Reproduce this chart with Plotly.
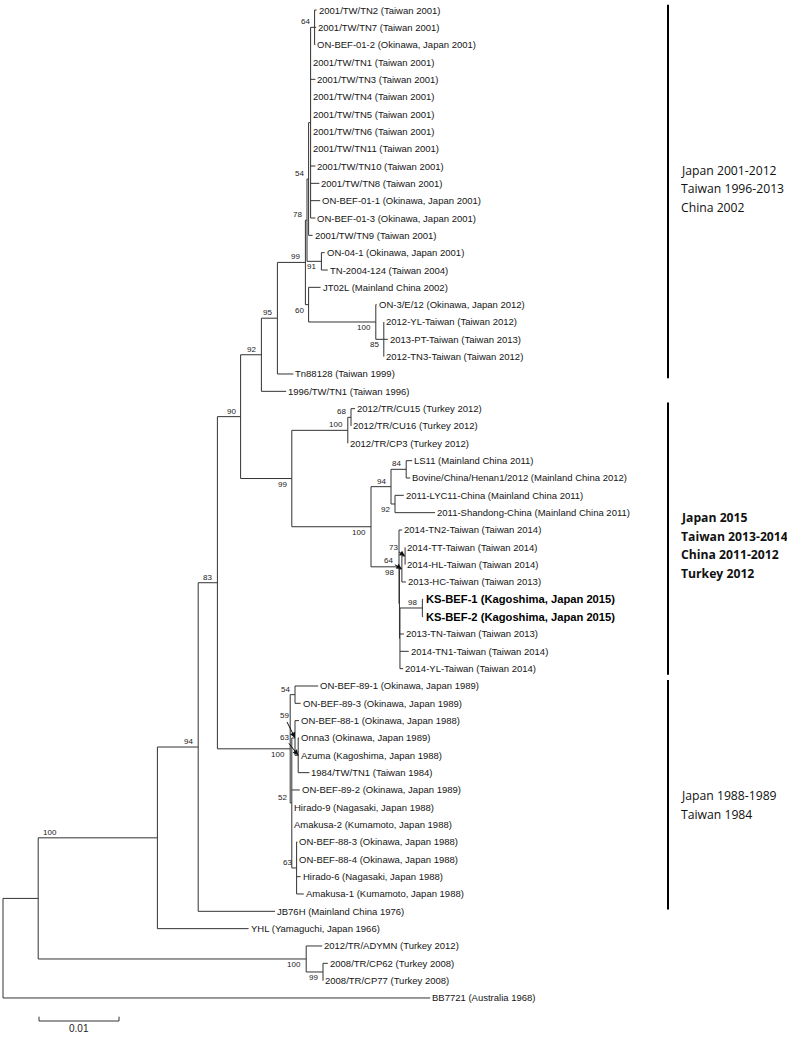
import plotly.graph_objects as go

# ---------------- DATA ----------------
tip_labels = [
    "2001/TW/TN2 (Taiwan 2001)", "2001/TW/TN7 (Taiwan 2001)", "ON-BEF-01-2 (Okinawa, Japan 2001)",
    "2001/TW/TN1 (Taiwan 2001)", "2001/TW/TN3 (Taiwan 2001)", "2001/TW/TN4 (Taiwan 2001)",
    "2001/TW/TN5 (Taiwan 2001)", "2001/TW/TN6 (Taiwan 2001)", "2001/TW/TN11 (Taiwan 2001)",
    "2001/TW/TN10 (Taiwan 2001)", "2001/TW/TN8 (Taiwan 2001)", "ON-BEF-01-1 (Okinawa, Japan 2001)",
    "ON-BEF-01-3 (Okinawa, Japan 2001)", "2001/TW/TN9 (Taiwan 2001)", "ON-04-1 (Okinawa, Japan 2001)",
    "TN-2004-124 (Taiwan 2004)", "JT02L (Mainland China 2002)", "ON-3/E/12 (Okinawa, Japan 2012)",
    "2012-YL-Taiwan (Taiwan 2012)", "2013-PT-Taiwan (Taiwan 2013)", "2012-TN3-Taiwan (Taiwan 2012)",
    "Tn88128 (Taiwan 1999)", "1996/TW/TN1 (Taiwan 1996)",
    "2012/TR/CU15 (Turkey 2012)", "2012/TR/CU16 (Turkey 2012)", "2012/TR/CP3 (Turkey 2012)",
    "LS11 (Mainland China 2011)", "Bovine/China/Henan1/2012 (Mainland China 2012)",
    "2011-LYC11-China (Mainland China 2011)", "2011-Shandong-China (Mainland China 2011)",
    "2014-TN2-Taiwan (Taiwan 2014)", "2014-TT-Taiwan (Taiwan 2014)", "2014-HL-Taiwan (Taiwan 2014)",
    "2013-HC-Taiwan (Taiwan 2013)", "KS-BEF-1 (Kagoshima, Japan 2015)", "KS-BEF-2 (Kagoshima, Japan 2015)",
    "2013-TN-Taiwan (Taiwan 2013)", "2014-TN1-Taiwan (Taiwan 2014)", "2014-YL-Taiwan (Taiwan 2014)",
    "ON-BEF-89-1 (Okinawa, Japan 1989)", "ON-BEF-89-3 (Okinawa, Japan 1989)",
    "ON-BEF-88-1 (Okinawa, Japan 1988)", "Onna3 (Okinawa, Japan 1989)", "Azuma (Kagoshima, Japan 1988)",
    "1984/TW/TN1 (Taiwan 1984)", "ON-BEF-89-2 (Okinawa, Japan 1989)", "Hirado-9 (Nagasaki, Japan 1988)",
    "Amakusa-2 (Kumamoto, Japan 1988)", "ON-BEF-88-3 (Okinawa, Japan 1988)",
    "ON-BEF-88-4 (Okinawa, Japan 1988)", "Hirado-6 (Nagasaki, Japan 1988)",
    "Amakusa-1 (Kumamoto, Japan 1988)", "JB76H (Mainland China 1976)", "YHL (Yamaguchi, Japan 1966)",
    "2012/TR/ADYMN (Turkey 2012)", "2008/TR/CP62 (Turkey 2008)", "2008/TR/CP77 (Turkey 2008)",
    "BB7721 (Australia 1968)",
]
tip_parent = [
    "n64a", "n64a", "n64a",
    "nR", "nR", "nR", "nR", "nR", "nR", "nR", "nR", "nR", "nR",
    "n54a", "n91", "n91", "n60", "n100c", "n85", "n85", "n85",
    "n95", "n92a",
    "n68", "n68", "n100t",
    "n84", "n84", "n92c", "n92c",
    "n98tw", "n73", "n73", "n64tw", "n98ks", "n98ks", "nZ2", "nZ2", "nZ2",
    "n54b", "n54b", "n59", "n63a", "n63a", "n63a", "n52", "n52", "n52",
    "n63b", "n63b", "n63b", "n63b",
    "n94", "n100a", "n100tr", "n99tr", "n99tr", "root",
]
tip_len = [
    0.00025, 0.0002, 0.0001,
    0.0, 0.0006, 0.0, 0.0, 0.0, 0.0, 0.0006, 0.0011, 0.0012, 0.0006,
    0.0005, 0.0004, 0.0008, 0.0015, 0.0001, 0.0, 0.0005, 0.0,
    0.002, 0.0031,
    0.0005, 0.0, 0.0,
    0.00075, 0.0005, 0.0011, 0.005,
    0.0004, 0.0, 0.0, 0.0005, 0.0001, 0.0001, 0.0005, 0.0011, 0.0004,
    0.0029, 0.0007, 0.0005, 0.0001, 0.0001, 0.0014, 0.001, 0.0, 0.0,
    0.0001, 0.00006, 0.0005, 0.0009,
    0.0096, 0.0114, 0.002, 0.0006, 0.0, 0.0534,
]
bold_tips = ["KS-BEF-1 (Kagoshima, Japan 2015)", "KS-BEF-2 (Kagoshima, Japan 2015)"]

node_names = ["root", "n38", "n100a", "n94", "n83", "n90", "n92a", "n95", "n99a", "n78", "n54a",
              "nR", "n64a", "n91", "n60", "n100c", "n85", "n99b", "n100t", "n68", "n100u", "n94c",
              "n84", "n92c", "n98tw", "nZ1", "n64tw", "n73", "nZ2", "n98ks", "n100d", "n54b",
              "n52", "n59", "n63a", "n63b", "n100tr", "n99tr"]
node_parent = [None, "root", "n38", "n100a", "n94", "n83", "n90", "n92a", "n95", "n99a", "n78",
               "n54a", "nR", "n78", "n99a", "n60", "n100c", "n90", "n99b", "n100t", "n99b", "n100u",
               "n94c", "n94c", "n100u", "n98tw", "nZ1", "n64tw", "nZ1", "nZ2", "n83", "n100d",
               "n100d", "n52", "n59", "n52", "n38", "n100tr"]
node_len = [0.0, 0.0044, 0.0149, 0.0051, 0.0024, 0.0029, 0.0026, 0.002, 0.0035, 0.0002, 0.0002,
            0.00025, 0.0005, 0.0018, 0.0004, 0.0084, 0.001, 0.0064, 0.007, 0.0004, 0.0099, 0.0025,
            0.0019, 0.0005, 0.0035, 0.00006, 0.0003, 0.0004, 0.00006, 0.0028, 0.0091, 0.0006,
            0.0002, 0.0004, 0.0004, 0.0006, 0.0335, 0.0021]
node_support = ["", "", "100", "94", "83", "90", "92", "95", "99", "78", "54",
                "", "64", "91", "60", "100", "85", "99", "100", "68", "100", "94",
                "84", "92", "98", "", "64", "73", "", "98", "100", "54",
                "52", "59", "63", "63", "100", "99"]

group_texts = [["Japan 2001-2012", "Taiwan 1996-2013", "China 2002"],
               ["Japan 2015", "Taiwan 2013-2014", "China 2011-2012", "Turkey 2012"],
               ["Japan 1988-1989", "Taiwan 1984"]]
group_first = ["2001/TW/TN2 (Taiwan 2001)", "2012/TR/CU15 (Turkey 2012)", "ON-BEF-89-1 (Okinawa, Japan 1989)"]
group_last = ["Tn88128 (Taiwan 1999)", "2014-YL-Taiwan (Taiwan 2014)", "Amakusa-1 (Kumamoto, Japan 1988)"]
scale_value = 0.01
scale_text = "0.01"

# ---------------- STYLE / PLACEMENT ----------------
label_side = {  # where each support value sits relative to its branch
    "n100a": "left_end", "n94": "above", "n83": "above", "n90": "above", "n92a": "above",
    "n95": "above", "n99a": "above", "n78": "above", "n54a": "above", "n64a": "above",
    "n91": "below", "n60": "below", "n100c": "below", "n85": "below", "n99b": "below",
    "n100t": "above", "n68": "above", "n100u": "below", "n94c": "above", "n84": "above",
    "n92c": "below", "n98tw": "below", "n98ks": "above", "n100d": "below", "n54b": "above",
    "n52": "above", "n63b": "above", "n100tr": "below", "n99tr": "below",
    "n64tw": "arrow", "n73": "arrow", "n59": "arrow", "n63a": "arrow",
}
arrow_offsets = {"n73": (-12, -8), "n64tw": (-13, -8), "n59": (-11, -22), "n63a": (-14, -18)}
line_color = "#333333"
W, H = 787, 1038
PX_PER_UNIT = 8000.0
X0_PX = 3.0
Y0_PX, DY_PX = 10.0, 17.333
bar_x_px = 668
text_x_px = 679
bar_pad_top = [0.3, 0.35, 0.35]       # in rows
bar_pad_bottom = [0.25, 0.35, 0.9]    # in rows
text_center_shift_px = [-3, 7, 10]
text_line_px = 18.5

# ---------------- TREE LAYOUT ----------------
parent = dict(zip(node_names, node_parent))
parent.update(zip(tip_labels, tip_parent))
blen = dict(zip(node_names, node_len))
blen.update(zip(tip_labels, tip_len))
kids = {n: [] for n in node_names}
for n in node_names + tip_labels:
    if parent[n] is not None:
        kids[parent[n]].append(n)

xpos = {}
def getx(n):
    if n not in xpos:
        xpos[n] = 0.0 if parent[n] is None else getx(parent[n]) + blen[n]
    return xpos[n]

ypos = {t: float(i) for i, t in enumerate(tip_labels)}
def gety(n):
    if n not in ypos:
        ys = [gety(c) for c in kids[n]]
        ypos[n] = (min(ys) + max(ys)) / 2.0
    return ypos[n]

for n in node_names + tip_labels:
    getx(n); gety(n)

lx, ly = [], []
for n in node_names:
    ys = [ypos[c] for c in kids[n]]
    lx += [xpos[n], xpos[n], None]
    ly += [min(ys), max(ys), None]
    for c in kids[n]:
        lx += [xpos[n], xpos[c], None]
        ly += [ypos[c], ypos[c], None]

fig = go.Figure()
fig.add_trace(go.Scatter(x=lx, y=ly, mode="lines", line=dict(color=line_color, width=1),
                         hoverinfo="skip", showlegend=False))

annotations = []
for t in tip_labels:
    bold = t in bold_tips
    annotations.append(dict(
        x=xpos[t], y=ypos[t], text=("<b>%s</b>" % t) if bold else t, showarrow=False,
        xanchor="left", yanchor="middle", xshift=0 if not bold else 1,
        font=dict(family="Liberation Sans, Arial, sans-serif", size=11.2 if bold else 9.5,
                  color="#000" if bold else "#151515")))

for n, s in zip(node_names, node_support):
    if not s:
        continue
    side = label_side.get(n, "above")
    f = dict(family="Liberation Sans, Arial, sans-serif", size=8, color="#222")
    if side == "arrow":
        ax, ay = arrow_offsets[n]
        annotations.append(dict(x=xpos[n], y=ypos[n], text=s, showarrow=True, ax=ax, ay=ay,
                                arrowhead=2, arrowsize=1.1, arrowwidth=1, arrowcolor="#111",
                                standoff=0, font=f))
    elif side == "left_end":
        annotations.append(dict(x=xpos[parent[n]], y=ypos[n], text=s, showarrow=False,
                                xanchor="left", xshift=3, yanchor="bottom", yshift=-1, font=f))
    else:
        annotations.append(dict(x=xpos[n], y=ypos[n], text=s, showarrow=False,
                                xanchor="right", xshift=-3,
                                yanchor="bottom" if side == "above" else "top",
                                yshift=-1 if side == "above" else 1, font=f))

# group bars and texts
def px_to_x(px):
    return (px - X0_PX) / PX_PER_UNIT

shapes = []
for i, (txt, a, b) in enumerate(zip(group_texts, group_first, group_last)):
    y1 = ypos[a] - bar_pad_top[i]
    y2 = ypos[b] + bar_pad_bottom[i]
    shapes.append(dict(type="line", x0=px_to_x(bar_x_px), x1=px_to_x(bar_x_px), y0=y1, y1=y2,
                       line=dict(color="#000", width=2)))
    bold = (i == 1)
    mid = (y1 + y2) / 2 + text_center_shift_px[i] / DY_PX
    nl = len(txt)
    for k, line in enumerate(txt):
        yy = mid + (k - (nl - 1) / 2) * text_line_px / DY_PX
        annotations.append(dict(x=px_to_x(text_x_px), y=yy,
                                text=("<b>%s</b>" % line) if bold else line, showarrow=False,
                                xanchor="left", yanchor="middle", align="left",
                                font=dict(family="Open Sans, sans-serif", size=12.2, color="#111")))

# scale bar
sb_x0 = px_to_x(39)
sb_y = (1021 - Y0_PX) / DY_PX
tick = 0.25
shapes.append(dict(type="line", x0=sb_x0, x1=sb_x0 + scale_value, y0=sb_y, y1=sb_y,
                   line=dict(color=line_color, width=1)))
for xx in (sb_x0, sb_x0 + scale_value):
    shapes.append(dict(type="line", x0=xx, x1=xx, y0=sb_y, y1=sb_y - tick,
                       line=dict(color=line_color, width=1)))
annotations.append(dict(x=sb_x0 + scale_value / 2, y=sb_y, text=scale_text, showarrow=False,
                        yanchor="top", yshift=0, xanchor="center",
                        font=dict(family="Liberation Sans, Arial, sans-serif", size=10, color="#222")))

fig.update_layout(
    width=W, height=H, autosize=False, margin=dict(l=0, r=0, t=0, b=0),
    paper_bgcolor="white", plot_bgcolor="white", showlegend=False,
    xaxis=dict(range=[px_to_x(0), px_to_x(W)], visible=False, fixedrange=True),
    yaxis=dict(range=[(H - Y0_PX) / DY_PX, -Y0_PX / DY_PX], visible=False, fixedrange=True),
    annotations=annotations, shapes=shapes,
)
fig.write_html("out.html", config={"displayModeBar": False},
               post_script="document.body.style.margin='0px';document.body.style.overflow='hidden';")
